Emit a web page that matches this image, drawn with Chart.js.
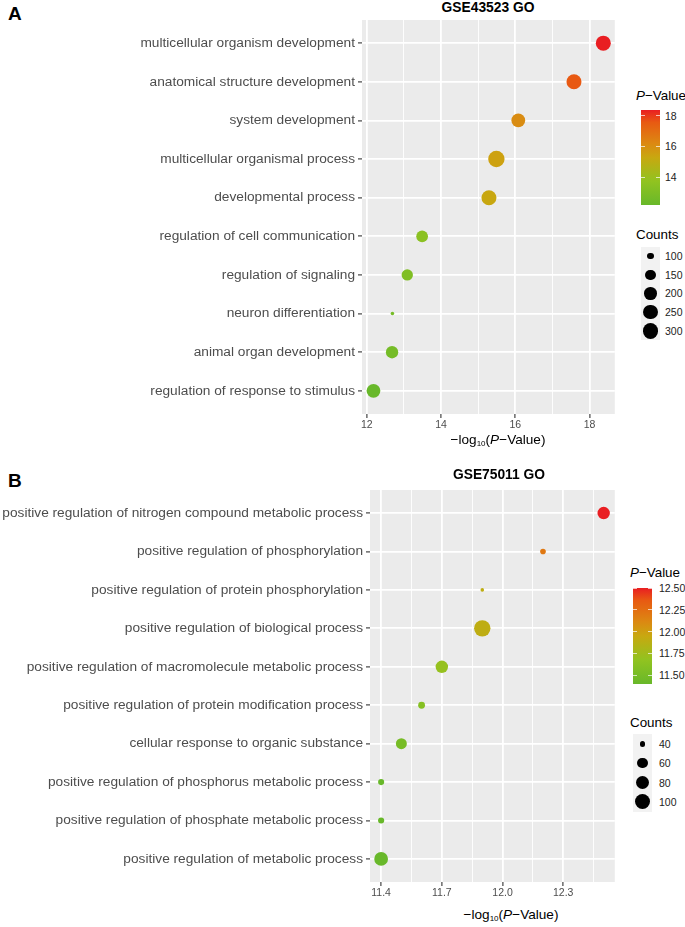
<!DOCTYPE html>
<html>
<head>
<meta charset="utf-8">
<script src="https://cdn.jsdelivr.net/npm/chart.js@4.4.0/dist/chart.umd.min.js"></script>
<style>
    body { margin: 0; width: 685px; height: 927px; background: #fff; position: relative; overflow: hidden;
           font-family: "Liberation Sans", Arial, sans-serif; color: #000; }
    .abs { position: absolute; }
    .letter { font-weight: bold; font-size: 19px; line-height: 19px; }
    .title { font-weight: bold; font-size: 13.8px; line-height: 16px; text-align: center; }
    .axtitle { font-size: 13.6px; line-height: 16px; text-align: center; color: #000; white-space: nowrap; }
    .axtitle sub { font-size: 8px; vertical-align: -2px; }
    .legtitle { font-size: 13.4px; line-height: 16px; white-space: nowrap; }
    .leglab { font-size: 10.5px; line-height: 12px; color: #222; white-space: nowrap; }
</style>
</head>
<body>
<div class="abs letter" style="left:8px;top:4px">A</div>
<div class="abs title" style="left:357px;top:0px;width:262px">GSE43523 GO</div>
<canvas id="chartA" class="abs" width="623" height="434" style="left:0;top:0"></canvas>
<div class="abs axtitle" style="left:398px;top:432px;width:200px">&minus;log<sub>10</sub>(<i>P</i>&minus;Value)</div>
<div id="legendA"></div>

<div class="abs letter" style="left:8px;top:471px">B</div>
<div class="abs title" style="left:368px;top:467px;width:262px">GSE75011 GO</div>
<canvas id="chartB" class="abs" width="623" height="432" style="left:0;top:470px"></canvas>
<div class="abs axtitle" style="left:411px;top:907px;width:200px">&minus;log<sub>10</sub>(<i>P</i>&minus;Value)</div>
<div id="legendB"></div>

<script>
// ---- Data: panel A (GSE43523) ----
const termsA = [
    "multicellular organism development",
    "anatomical structure development",
    "system development",
    "multicellular organismal process",
    "developmental process",
    "regulation of cell communication",
    "regulation of signaling",
    "neuron differentiation",
    "animal organ development",
    "regulation of response to stimulus"
];
const pValueA = [18.37, 17.58, 16.08, 15.49, 15.29, 13.49, 13.09, 12.69, 12.68, 12.18];
const countsA = [273, 273, 235, 322, 273, 181, 172, 85, 196, 235];
const xTicksA = [12, 14, 16, 18];
const colorKeysA = [14, 16, 18];
const sizeKeysA = [100, 150, 200, 250, 300];

// ---- Data: panel B (GSE75011) ----
const termsB = [
    "positive regulation of nitrogen compound metabolic process",
    "positive regulation of phosphorylation",
    "positive regulation of protein phosphorylation",
    "positive regulation of biological process",
    "positive regulation of macromolecule metabolic process",
    "positive regulation of protein modification process",
    "cellular response to organic substance",
    "positive regulation of phosphorus metabolic process",
    "positive regulation of phosphate metabolic process",
    "positive regulation of metabolic process"
];
const pValueB = [12.50, 12.20, 11.90, 11.90, 11.70, 11.60, 11.50, 11.40, 11.40, 11.40];
const countsB = [75, 40, 38, 116, 75, 43, 64, 41, 41, 87];
const xTicksB = [11.4, 11.7, 12.0, 12.3];
const colorKeysB = [11.5, 11.75, 12.0, 12.25, 12.5];
const sizeKeysB = [40, 60, 80, 100];

// green -> mustard -> red, like the ggplot gradient
const colorStops = [
    [0, [104, 184, 42]],
    [0.25, [145, 195, 32]],
    [0.5, [200, 168, 16]],
    [0.65, [220, 136, 18]],
    [0.87, [232, 90, 18]],
    [1, [233, 30, 34]]
];
const R_MIN = 1.8, R_MAX = 8.2;
const FONT = '"Liberation Sans", Arial, sans-serif';

function colorAt(t) {
    t = Math.max(0, Math.min(1, t));
    for (let i = 1; i < colorStops.length; i++) {
        const [t1, c1] = colorStops[i];
        const [t0, c0] = colorStops[i - 1];
        if (t <= t1) {
            const f = (t - t0) / (t1 - t0);
            const c = c0.map((v, k) => Math.round(v + (c1[k] - v) * f));
            return 'rgb(' + c.join(',') + ')';
        }
    }
    return 'rgb(' + colorStops[colorStops.length - 1][1].join(',') + ')';
}

// area scale: radius grows with sqrt of the rescaled count
function makeSize(counts) {
    const lo = Math.min(...counts), hi = Math.max(...counts);
    return (c) => R_MIN + (R_MAX - R_MIN) * Math.sqrt(Math.max(0, (c - lo) / (hi - lo)));
}

// grey panel behind the grid
const panelBg = {
    id: 'panelBg',
    beforeDraw(chart) {
        const a = chart.chartArea;
        chart.ctx.save();
        chart.ctx.fillStyle = '#EBEBEB';
        chart.ctx.fillRect(a.left, a.top, a.right - a.left, a.bottom - a.top);
        chart.ctx.restore();
    }
};

function createChart(elementId, terms, pValues, counts, majors, digits, axisLeft, padRight) {
    const size = makeSize(counts);
    const pMin = Math.min(...pValues), pMax = Math.max(...pValues);
    const pad = (pMax - pMin) * 0.05;
    // minor breaks half way between majors
    const step = majors[1] - majors[0];
    let xTicks = [];
    majors.forEach((m) => { xTicks.push(m); xTicks.push(m + step / 2); });
    xTicks.push(majors[0] - step / 2);
    xTicks = xTicks.filter((v) => v >= pMin - pad && v <= pMax + pad).sort((a, b) => a - b);
    const isMajor = (v) => majors.some((m) => Math.abs(m - v) < 1e-6);

    const points = terms.map((t, i) => ({ x: pValues[i], y: i + 1, r: size(counts[i]) }));

    return new Chart(document.getElementById(elementId), {
        type: 'bubble',
        data: {
            datasets: [{
                data: points,
                backgroundColor: (ctx) => colorAt((pValues[ctx.dataIndex] - pMin) / (pMax - pMin)),
                borderWidth: 0
            }]
        },
        plugins: [panelBg],
        options: {
            responsive: false,
            animation: false,
            devicePixelRatio: 1,
            layout: { padding: { top: 20, right: padRight, left: 0, bottom: 0 } },
            plugins: { legend: { display: false }, tooltip: { enabled: false } },
            scales: {
                x: {
                    type: 'linear',
                    min: pMin - pad,
                    max: pMax + pad,
                    afterBuildTicks: (scale) => { scale.ticks = xTicks.map((v) => ({ value: v })); },
                    afterFit: (scale) => { scale.height = 20; },
                    border: { display: false },
                    grid: {
                        color: '#FFFFFF',
                        lineWidth: (ctx) => (ctx.tick && isMajor(ctx.tick.value)) ? 1.8 : 0.9,
                        tickColor: (ctx) => (ctx.tick && isMajor(ctx.tick.value)) ? '#333333' : 'rgba(0,0,0,0)',
                        tickLength: 4,
                        tickWidth: 1.1
                    },
                    ticks: {
                        autoSkip: false,
                        maxRotation: 0,
                        padding: 1,
                        color: '#4D4D4D',
                        font: { family: FONT, size: 10.5 },
                        callback: (v) => isMajor(v) ? v.toFixed(digits) : ''
                    }
                },
                y: {
                    type: 'linear',
                    reverse: true,
                    min: 0.4,
                    max: terms.length + 0.6,
                    afterBuildTicks: (scale) => { scale.ticks = terms.map((t, i) => ({ value: i + 1 })); },
                    afterFit: (scale) => { scale.width = axisLeft; },
                    border: { display: false },
                    grid: {
                        color: '#FFFFFF',
                        lineWidth: 1.8,
                        tickColor: '#333333',
                        tickLength: 4,
                        tickWidth: 1.1
                    },
                    ticks: {
                        autoSkip: false,
                        padding: 3,
                        color: '#4D4D4D',
                        font: { family: FONT, size: 13.7 },
                        callback: (v) => terms[v - 1]
                    }
                }
            }
        }
    });
}

// colour bar and size keys, built as html next to the chart
function buildLegend(containerId, pValues, counts, colorKeys, sizeKeys, pos) {
    const box = document.getElementById(containerId);
    const pMin = Math.min(...pValues), pMax = Math.max(...pValues);
    const size = makeSize(counts);
    let html = '';
    html += '<div class="abs legtitle" style="left:' + pos.titleX + 'px;top:' + (pos.pTitleY - 8) + 'px"><i>P</i>&minus;Value</div>';
    const grad = colorStops.map(([t]) => colorAt(t) + ' ' + (t * 100) + '%').join(',');
    html += '<div class="abs" style="left:' + pos.barX + 'px;top:' + pos.barTop + 'px;width:19px;height:' + pos.barH +
        'px;background:linear-gradient(to top,' + grad + ')"></div>';
    colorKeys.forEach((k) => {
        const y = pos.barTop + pos.barH * (pMax - k) / (pMax - pMin);
        html += '<div class="abs" style="left:' + pos.barX + 'px;top:' + (y - 0.5) + 'px;width:4px;height:1px;background:rgba(255,255,255,0.7)"></div>';
        html += '<div class="abs" style="left:' + (pos.barX + 15) + 'px;top:' + (y - 0.5) + 'px;width:4px;height:1px;background:rgba(255,255,255,0.7)"></div>';
        html += '<div class="abs leglab" style="left:' + pos.labX + 'px;top:' + (y - 6) + 'px">' +
            (Number.isInteger(k) && pos.digits === 0 ? k : k.toFixed(pos.digits)) + '</div>';
    });
    html += '<div class="abs legtitle" style="left:' + pos.titleX + 'px;top:' + (pos.cTitleY - 8) + 'px">Counts</div>';
    html += '<div class="abs" style="left:' + pos.barX + 'px;top:' + (pos.keyY - pos.keyStep / 2) + 'px;width:19px;height:' +
        (pos.keyStep * sizeKeys.length) + 'px;background:#F2F2F2"></div>';
    sizeKeys.forEach((k, i) => {
        const r = size(k);
        const cy = pos.keyY + i * pos.keyStep;
        html += '<div class="abs" style="left:' + (pos.barX + 9.5 - r) + 'px;top:' + (cy - r) + 'px;width:' + (2 * r) +
            'px;height:' + (2 * r) + 'px;border-radius:50%;background:#000"></div>';
        html += '<div class="abs leglab" style="left:' + pos.labX + 'px;top:' + (cy - 6) + 'px">' + k + '</div>';
    });
    box.innerHTML = html;
}

createChart('chartA', termsA, pValueA, countsA, xTicksA, 0, 362, 0);
createChart('chartB', termsB, pValueB, countsB, xTicksB, 1, 370, 1);

buildLegend('legendA', pValueA, countsA, colorKeysA, sizeKeysA,
    { titleX: 636, pTitleY: 96, barX: 641, barTop: 110, barH: 95, labX: 665, digits: 0,
      cTitleY: 235, keyY: 256, keyStep: 18.7 });
buildLegend('legendB', pValueB, countsB, colorKeysB, sizeKeysB,
    { titleX: 630, pTitleY: 573, barX: 633, barTop: 588, barH: 96, labX: 659, digits: 2,
      cTitleY: 723, keyY: 744, keyStep: 19.3 });
</script>
</body>
</html>
